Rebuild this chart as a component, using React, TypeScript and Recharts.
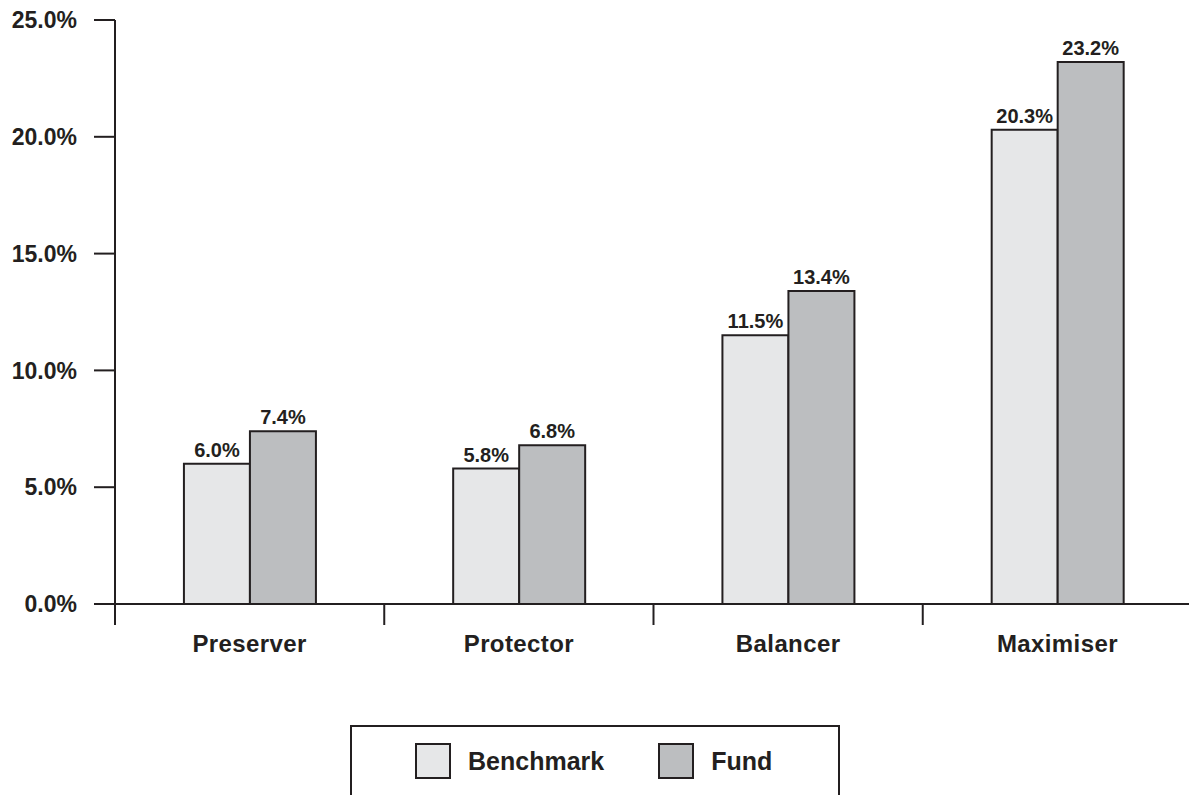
import React from "react";
import { BarChart, Bar, XAxis, YAxis, Legend, LabelList } from "recharts";

const categories = ["Preserver", "Protector", "Balancer", "Maximiser"];
const benchmark = [6.0, 5.8, 11.5, 20.3];
const fund = [7.4, 6.8, 13.4, 23.2];
const yTicks = [0, 5, 10, 15, 20, 25];

const series = [
    { key: "benchmark", name: "Benchmark", color: "#e6e7e8" },
    { key: "fund", name: "Fund", color: "#bcbec0" },
];

const data = categories.map((name, i) => ({
    name,
    benchmark: benchmark[i],
    fund: fund[i],
}));

const INK = "#231f20";
const FONT = "'Liberation Sans', Arial, Helvetica, sans-serif";

const pct = (v: number) => `${Number(v).toFixed(1)}%`;

// label in the middle of the band, tick line on the band's left edge
function CategoryTick(props: any) {
    const { x, y, payload } = props;
    const half = payload && payload.offset ? payload.offset : 0;
    return (
        <g>
            <line
                x1={x - half}
                x2={x - half}
                y1={y}
                y2={y + 21}
                stroke={INK}
                strokeWidth={2}
            />
            <text
                x={x}
                y={y + 48}
                textAnchor="middle"
                fill={INK}
                fontFamily={FONT}
                fontWeight="bold"
                fontSize={24}
                letterSpacing={0.4}
            >
                {payload.value}
            </text>
        </g>
    );
}

function LegendBox() {
    return (
        <div
            style={{
                boxSizing: "border-box",
                width: 490,
                height: 100,
                border: `2px solid ${INK}`,
                display: "flex",
                alignItems: "flex-start",
                paddingLeft: 63,
                paddingTop: 16,
                fontFamily: FONT,
                fontWeight: "bold",
                fontSize: 25,
                color: INK,
            }}
        >
            {series.map((s, i) => (
                <div
                    key={s.key}
                    style={{
                        display: "flex",
                        alignItems: "center",
                        marginRight: i === 0 ? 54 : 0,
                    }}
                >
                    <div
                        style={{
                            boxSizing: "border-box",
                            width: 36,
                            height: 36,
                            background: s.color,
                            border: `2px solid ${INK}`,
                            marginRight: 17,
                        }}
                    />
                    <span>{s.name}</span>
                </div>
            ))}
        </div>
    );
}

export default function App() {
    return (
        <div
            style={{
                position: "absolute",
                left: 0,
                top: 0,
                width: 1189,
                height: 795,
                overflow: "hidden",
                background: "#fff",
            }}
        >
            <BarChart
                width={1200}
                height={830}
                data={data}
                margin={{ top: 20, right: 8, left: 0, bottom: 0 }}
                barCategoryGap="25.6%"
                barGap={0}
            >
                <XAxis
                    dataKey="name"
                    height={226}
                    axisLine={{ stroke: INK, strokeWidth: 2 }}
                    tickLine={false}
                    tickSize={0}
                    tickMargin={0}
                    tick={<CategoryTick />}
                    interval={0}
                />
                <YAxis
                    width={115}
                    domain={[0, 25]}
                    ticks={yTicks}
                    tickFormatter={pct}
                    axisLine={{ stroke: INK, strokeWidth: 2 }}
                    tickLine={{ stroke: INK, strokeWidth: 2 }}
                    tickSize={21}
                    tickMargin={17}
                    tick={{
                        fill: INK,
                        fontFamily: FONT,
                        fontWeight: "bold",
                        fontSize: 23,
                    }}
                    interval={0}
                />
                <Legend
                    layout="vertical"
                    align="center"
                    verticalAlign="middle"
                    content={<LegendBox />}
                    wrapperStyle={{ position: "absolute", left: 350, top: 725, width: 490 }}
                />
                {series.map((s) => (
                    <Bar
                        key={s.key}
                        dataKey={s.key}
                        name={s.name}
                        fill={s.color}
                        stroke={INK}
                        strokeWidth={2}
                        isAnimationActive={false}
                    >
                        <LabelList
                            dataKey={s.key}
                            position="top"
                            offset={7}
                            formatter={pct}
                            fill={INK}
                            fontFamily={FONT}
                            fontWeight="bold"
                            fontSize={20}
                        />
                    </Bar>
                ))}
            </BarChart>
        </div>
    );
}
